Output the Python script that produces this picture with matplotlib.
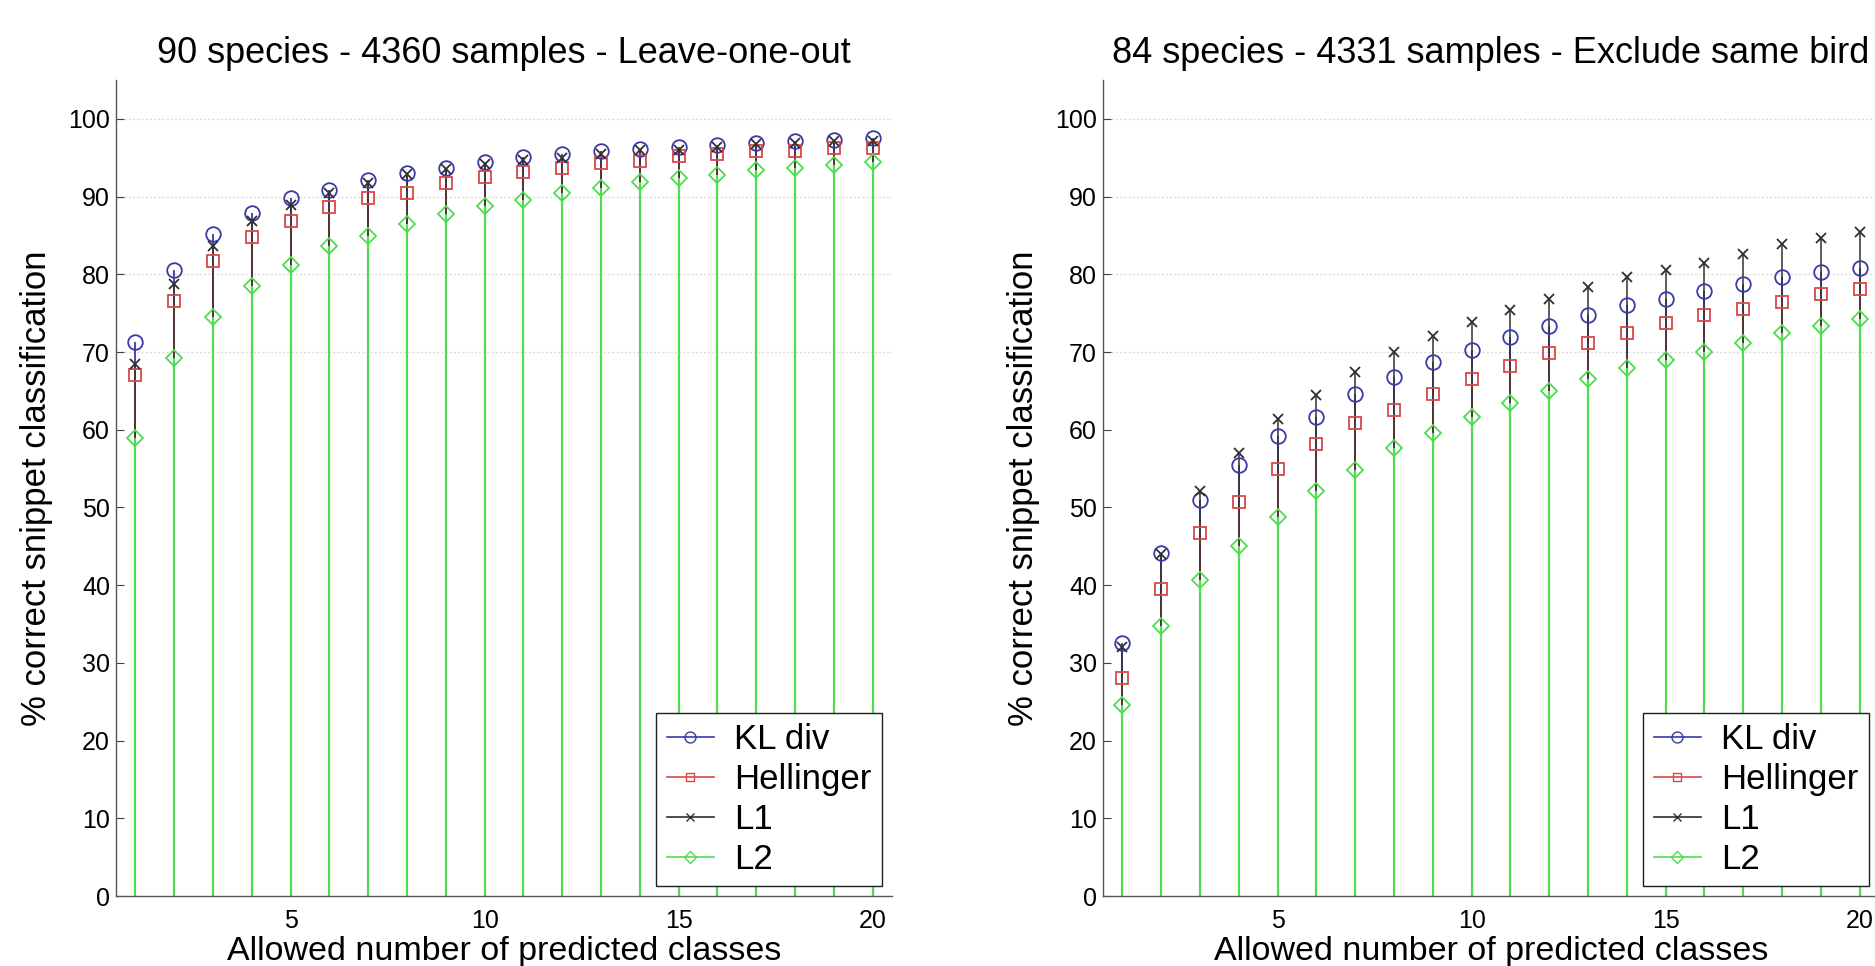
import numpy as np
import matplotlib
matplotlib.use("Agg")
import matplotlib.pyplot as plt
from matplotlib.lines import Line2D
from matplotlib.legend_handler import HandlerLine2D

plt.rcParams['font.family'] = ['Liberation Sans', 'DejaVu Sans']

# ---------------- data ----------------
n_classes = list(range(1, 21))

titles = ["90 species - 4360 samples - Leave-one-out",
          "84 species - 4331 samples - Exclude same bird"]
series_names = ["KL div", "Hellinger", "L1", "L2"]

left_kl = [71.3, 80.5, 85.2, 87.9, 89.8, 90.9, 92.1, 93.0, 93.7, 94.5,
           95.1, 95.5, 95.8, 96.1, 96.4, 96.6, 96.9, 97.1, 97.3, 97.6]
left_hel = [67.1, 76.5, 81.7, 84.8, 86.8, 88.6, 89.8, 90.5, 91.7, 92.5,
            93.2, 93.7, 94.3, 94.6, 95.2, 95.5, 95.8, 95.9, 96.2, 96.3]
left_l1 = [68.5, 78.7, 83.6, 86.8, 88.9, 90.4, 91.7, 92.9, 93.5, 94.2,
           94.7, 94.9, 95.5, 96.0, 96.0, 96.4, 96.8, 96.95, 97.2, 97.2]
left_l2 = [58.9, 69.2, 74.5, 78.5, 81.2, 83.6, 84.9, 86.5, 87.7, 88.8,
           89.6, 90.4, 91.1, 91.9, 92.4, 92.8, 93.4, 93.7, 94.0, 94.4]

right_kl = [32.5, 44.1, 50.9, 55.4, 59.2, 61.7, 64.6, 66.8, 68.7, 70.2,
            71.9, 73.3, 74.7, 76.1, 76.8, 77.9, 78.8, 79.7, 80.3, 80.8]
right_hel = [28.0, 39.5, 46.7, 50.7, 55.0, 58.2, 60.8, 62.6, 64.6, 66.5,
             68.2, 69.9, 71.2, 72.5, 73.7, 74.8, 75.5, 76.4, 77.4, 78.1]
right_l1 = [32.0, 44.0, 52.1, 57.0, 61.4, 64.5, 67.4, 70.0, 72.0, 73.9,
            75.4, 76.8, 78.3, 79.6, 80.6, 81.5, 82.6, 83.9, 84.7, 85.5]
right_l2 = [24.6, 34.8, 40.7, 45.1, 48.8, 52.1, 54.8, 57.7, 59.6, 61.6,
            63.5, 65.0, 66.5, 68.0, 69.0, 70.0, 71.2, 72.4, 73.4, 74.3]

y_ticks = [0, 10, 20, 30, 40, 50, 60, 70, 80, 90, 100]
x_ticks = [5, 10, 15, 20]
grid_levels = [70, 80, 90, 100]

# ---------------- style ----------------
colors = ['#3a3aa8', '#d84848', '#303030', '#4fdc4f']
stem_lw = [1.3, 1.3, 1.1, 1.6]
markers = ['o', 's', 'x', 'D']
msizes = [10.5, 8.5, 7.5, 8]


class EndMarkerHandler(HandlerLine2D):
    def get_xdata(self, legend, xdescent, ydescent, width, height, fontsize):
        xdata = np.array([-xdescent, -xdescent + width])
        xdata_marker = np.array([-xdescent + width])
        return xdata, xdata_marker


fig = plt.figure(figsize=(18.75, 9.66), dpi=100)
ax_w = 776 / 1875
ax_h = 816 / 966
ax_b = 70 / 966
axes = [fig.add_axes([116 / 1875, ax_b, ax_w, ax_h]),
        fig.add_axes([1103 / 1875, ax_b, ax_w, ax_h])]

panels = [[left_kl, left_hel, left_l1, left_l2],
          [right_kl, right_hel, right_l1, right_l2]]

for ax, title, data in zip(axes, titles, panels):
    for lvl in grid_levels:
        ax.axhline(lvl, color='#dcdcdc', lw=1.0, ls=(0, (1.5, 1.5)), zorder=0)
    for i, vals in enumerate(data):
        ax.vlines(n_classes, 0, vals, colors=colors[i], lw=stem_lw[i], zorder=2 + i * 0.1)
    for i, vals in enumerate(data):
        ax.plot(n_classes, vals, ls='none', marker=markers[i], ms=msizes[i],
                mfc='none', mec=colors[i], mew=1.3, zorder=4)
    ax.set_xlim(0.5, 20.5)
    ax.set_ylim(0, 105)
    ax.set_xticks(x_ticks)
    ax.set_yticks(y_ticks)
    ax.tick_params(axis='both', direction='in', labelsize=18, color='#404040', length=6)
    ax.tick_params(axis='y', pad=4.3)
    ax.tick_params(axis='x', pad=9.5)
    for s in ['top', 'right']:
        ax.spines[s].set_visible(False)
    for s in ['left', 'bottom']:
        ax.spines[s].set_color('#555555')
        ax.spines[s].set_linewidth(1.0)
    ax.set_title(title, fontsize=26, pad=12)
    ax.set_xlabel("Allowed number of predicted classes", fontsize=24.5, labelpad=2)
    ax.set_ylabel("% correct snippet classification", fontsize=25, labelpad=11)

    handles = [Line2D([], [], color=colors[i], marker=markers[i], ms=msizes[i] * 0.75,
                      mfc='none', mec=colors[i], lw=1.2) for i in range(4)]
    leg = ax.legend(handles, series_names, loc='lower right', fontsize=25,
                    handler_map={Line2D: EndMarkerHandler()},
                    handlelength=1.35, handletextpad=0.6, labelspacing=0.2,
                    borderpad=0.3, borderaxespad=0.28, fancybox=False,
                    framealpha=1, edgecolor='#202020')
    leg.get_frame().set_linewidth(1.0)
    leg.set_zorder(10)

fig.savefig("out.png", dpi=100)
